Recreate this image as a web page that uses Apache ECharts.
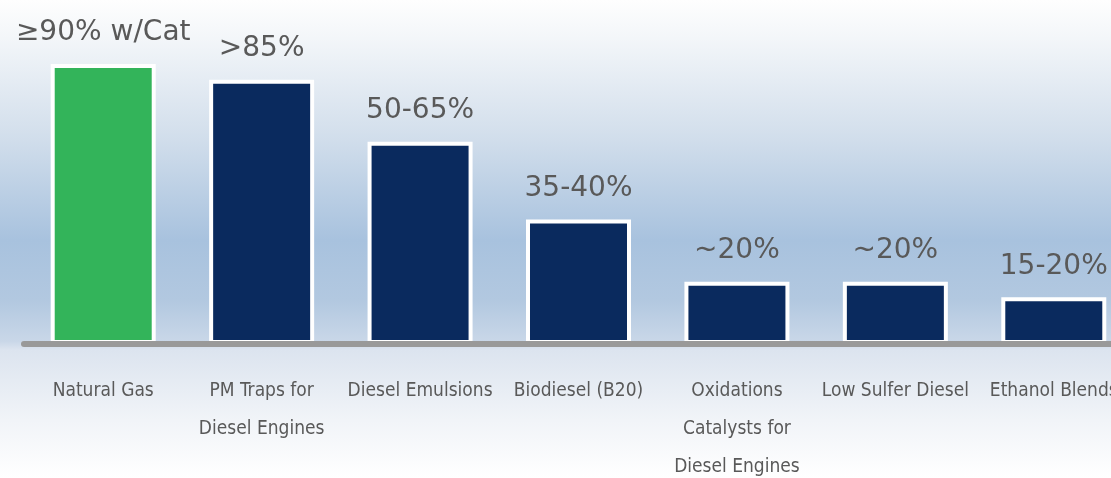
<!DOCTYPE html>
<html>
<head>
<meta charset="utf-8">
<script src="https://cdn.jsdelivr.net/npm/echarts@6/dist/echarts.min.js"></script>
<style>
html,body{margin:0;padding:0;width:1111px;height:478px;overflow:hidden;}
#c{width:1111px;height:478px;background:linear-gradient(to bottom,#fefefe 0%,#f3f6f9 8%,#d3dfec 28%,#a8c2de 50.2%,#b2c8e0 62.8%,#c9d7e8 71.4%,#dce4ef 73.2%,#f1f4f8 87.9%,#ffffff 100%);}
</style>
</head>
<body>
<div id="c"></div>
<script>
const categories = ['Natural Gas', 'PM Traps for\nDiesel Engines', 'Diesel Emulsions', 'Biodiesel (B20)', 'Oxidations\nCatalysts for\nDiesel Engines', 'Low Sulfer Diesel', 'Ethanol Blends'];
const values = [90, 85, 65, 40, 20, 20, 15];
const valueLabels = ['≥90% w/Cat', '>85%', '50-65%', '35-40%', '~20%', '~20%', '15-20%'];
const highlighted = 'Natural Gas';

const catFont = "'Arial Narrow', 'Liberation Sans Narrow', 'DejaVu Sans Condensed', sans-serif";
// pick a category font size so that "Natural Gas" is about as wide as in the reference
const mctx = document.createElement('canvas').getContext('2d');
mctx.font = '100px ' + catFont;
const w100 = mctx.measureText('Natural Gas').width;
const catSize = Math.min(24, Math.max(16, Math.round(10000 / w100 * 2) / 2));

const chart = echarts.init(document.getElementById('c'), null, {renderer: 'canvas'});
chart.setOption({
  animation: false,
  grid: {left: 24, top: 33, width: 1109, height: 311, outerBoundsMode: 'none', containLabel: false},
  xAxis: {
    type: 'category',
    data: categories,
    z: 10,
    axisLine: {show: true, lineStyle: {color: '#999999', width: 6, cap: 'round'}},
    axisTick: {show: false},
    axisLabel: {
      interval: 0,
      margin: 28,
      color: '#595959',
      fontFamily: catFont,
      fontSize: catSize,
      lineHeight: 38
    }
  },
  yAxis: {
    type: 'value',
    min: 0,
    max: 100,
    show: false,
    splitLine: {show: false}
  },
  series: [{
    type: 'bar',
    data: values,
    barWidth: 105,
    itemStyle: {
      color: p => categories[p.dataIndex] === highlighted ? '#33b45a' : '#0a2a5e',
      borderColor: '#ffffff',
      borderWidth: 4
    },
    label: {
      show: true,
      position: 'top',
      distance: 17,
      color: '#595959',
      fontFamily: "'DejaVu Sans', Verdana, sans-serif",
      fontSize: 28,
      formatter: p => valueLabels[p.dataIndex]
    }
  }]
});
</script>
</body>
</html>
